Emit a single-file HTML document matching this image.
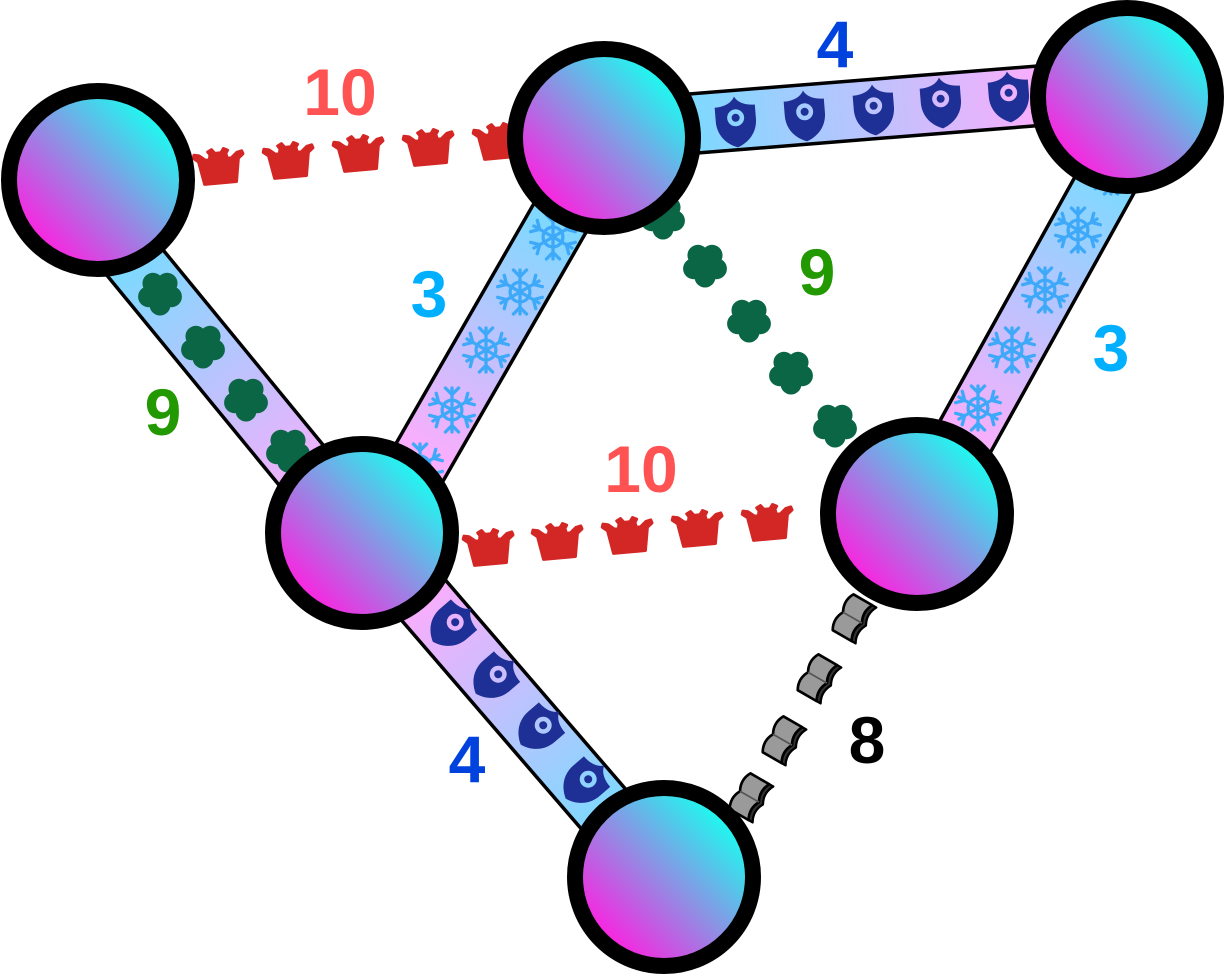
<!DOCTYPE html>
<html><head><meta charset="utf-8"><style>
html,body{margin:0;padding:0;background:#fff;}
svg{display:block}
text{font-family:"Liberation Sans",Arial,sans-serif;font-weight:bold;font-size:66px;text-anchor:middle}
</style></head><body>
<svg width="1225" height="976" viewBox="0 0 1225 976" xmlns="http://www.w3.org/2000/svg" xmlns:xlink="http://www.w3.org/1999/xlink">
<defs>
 <linearGradient id="ng" x1="0.15" y1="0.85" x2="0.85" y2="0.15">
  <stop offset="0" stop-color="#ff1fe0"/>
  <stop offset="0.5" stop-color="#8e90e4"/>
  <stop offset="1" stop-color="#18fff0"/>
 </linearGradient>
 <linearGradient id="gAD" gradientUnits="userSpaceOnUse" x1="137" y1="265" x2="320" y2="488">
  <stop offset="0" stop-color="#80d8ff"/><stop offset="1" stop-color="#f8aefc"/>
 </linearGradient>
 <linearGradient id="gBD" gradientUnits="userSpaceOnUse" x1="555" y1="228" x2="428" y2="450">
  <stop offset="0" stop-color="#80d8ff"/><stop offset="1" stop-color="#f8aefc"/>
 </linearGradient>
 <linearGradient id="gBC" gradientUnits="userSpaceOnUse" x1="700" y1="123" x2="1036" y2="96">
  <stop offset="0" stop-color="#80d8ff"/><stop offset="1" stop-color="#f8aefc"/>
 </linearGradient>
 <linearGradient id="gCE" gradientUnits="userSpaceOnUse" x1="1105" y1="185" x2="965" y2="435">
  <stop offset="0" stop-color="#80d8ff"/><stop offset="1" stop-color="#f8aefc"/>
 </linearGradient>
 <linearGradient id="gDF" gradientUnits="userSpaceOnUse" x1="425" y1="600" x2="605" y2="812">
  <stop offset="0" stop-color="#f8aefc"/><stop offset="1" stop-color="#80d8ff"/>
 </linearGradient>

 <path id="crown" d="M -16 17 L 16 17 L 20 -6 L 25 -10 L 24 -13 L 19 -12 L 13 -7 L 9 -7 L 8 -12 L 10 -15 L 6 -17 L 3 -13 L -3 -13 L -6 -17 L -10 -15 L -8 -12 L -9 -7 L -13 -7 L -19 -12 L -24 -13 L -25 -10 L -20 -6 Z" fill="#d22725" stroke="#d22725" stroke-width="3" stroke-linejoin="round"/>

 <path id="shield" fill="#1e2f96" fill-rule="evenodd" transform="scale(1.06)" d="M -19 -15 C -10 -15 -3 -18 0 -24 C 3 -18 10 -15 19 -15 L 19 -2 C 19 11 11 20 0 24 C -11 20 -19 11 -19 -2 Z M 8 -4 A 8 8 0 1 0 -8 -4 A 8 8 0 1 0 8 -4 Z M 3.8 -4 A 3.8 3.8 0 1 0 -3.8 -4 A 3.8 3.8 0 1 0 3.8 -4 Z"/>

 <g id="flower" fill="#0b6646">
  <circle cx="0" cy="0" r="12"/>
  <circle cx="0" cy="12" r="10.5"/>
  <circle cx="11.4" cy="3.7" r="10.5"/>
  <circle cx="7.05" cy="-9.7" r="10.5"/>
  <circle cx="-7.05" cy="-9.7" r="10.5"/>
  <circle cx="-11.4" cy="3.7" r="10.5"/>
 </g>

 <g id="flake" stroke="#3da9f8" stroke-width="3" stroke-linecap="round" fill="none" transform="scale(1.1)">
  <circle cx="0" cy="0" r="9"/>
  <path d="M0 0V-20M0 -14L-6 -20M0 -14L6 -20"/>
  <path d="M0 0V-20M0 -14L-6 -20M0 -14L6 -20" transform="rotate(60)"/>
  <path d="M0 0V-20M0 -14L-6 -20M0 -14L6 -20" transform="rotate(120)"/>
  <path d="M0 0V-20M0 -14L-6 -20M0 -14L6 -20" transform="rotate(180)"/>
  <path d="M0 0V-20M0 -14L-6 -20M0 -14L6 -20" transform="rotate(240)"/>
  <path d="M0 0V-20M0 -14L-6 -20M0 -14L6 -20" transform="rotate(300)"/>
 </g>

 <g id="book" transform="scale(1.15)">
  <path d="M -18 9 L -18 13 Q -9 8 0 13 Q 9 8 18 13 L 18 9 Q 9 4 0 9 Q -9 4 -18 9 Z" fill="#333" stroke="#000" stroke-width="2" stroke-linejoin="round"/>
  <path d="M -18 -10 Q -9 -15 0 -10 Q 9 -15 18 -10 L 18 9 Q 9 4 0 9 Q -9 4 -18 9 Z" fill="#9a9a9a" stroke="#000" stroke-width="2.3" stroke-linejoin="round"/>
  <path d="M 0 -10 L 0 9" stroke="#555" stroke-width="1.5"/>
 </g>
</defs>

<!-- bands -->
<g stroke-linecap="butt">
 <line x1="59" y1="170" x2="379" y2="560" stroke="#000" stroke-width="63"/>
 <line x1="59" y1="170" x2="379" y2="560" stroke="url(#gAD)" stroke-width="56"/>

 <line x1="599" y1="150" x2="372" y2="545" stroke="#000" stroke-width="63"/>
 <line x1="599" y1="150" x2="372" y2="545" stroke="url(#gBD)" stroke-width="56"/>

 <line x1="620" y1="129.4" x2="1110" y2="90" stroke="#000" stroke-width="63"/>
 <line x1="620" y1="129.4" x2="1110" y2="90" stroke="url(#gBC)" stroke-width="56"/>

 <line x1="1146" y1="110" x2="919" y2="520" stroke="#000" stroke-width="63"/>
 <line x1="1146" y1="110" x2="919" y2="520" stroke="url(#gCE)" stroke-width="56"/>

 <line x1="376" y1="545" x2="656" y2="870" stroke="#000" stroke-width="63"/>
 <line x1="376" y1="545" x2="656" y2="870" stroke="url(#gDF)" stroke-width="56"/>
</g>

<!-- A-B crowns -->
<use href="#crown" xlink:href="#crown" transform="translate(219 166) rotate(-5.3)"/>
<use href="#crown" xlink:href="#crown" transform="translate(289 160) rotate(-5.3)"/>
<use href="#crown" xlink:href="#crown" transform="translate(359 153) rotate(-5.3)"/>
<use href="#crown" xlink:href="#crown" transform="translate(429 147) rotate(-5.3)"/>
<use href="#crown" xlink:href="#crown" transform="translate(499 141) rotate(-5.3)"/>
<!-- D-E crowns -->
<use href="#crown" xlink:href="#crown" transform="translate(489 547) rotate(-5)"/>
<use href="#crown" xlink:href="#crown" transform="translate(558 541) rotate(-5)"/>
<use href="#crown" xlink:href="#crown" transform="translate(628 535) rotate(-5)"/>
<use href="#crown" xlink:href="#crown" transform="translate(698 528) rotate(-5)"/>
<use href="#crown" xlink:href="#crown" transform="translate(768 522) rotate(-5)"/>
<!-- B-C shields -->
<use href="#shield" xlink:href="#shield" transform="translate(736 122) rotate(-4.6)"/>
<use href="#shield" xlink:href="#shield" transform="translate(805 116) rotate(-4.6)"/>
<use href="#shield" xlink:href="#shield" transform="translate(874 110) rotate(-4.6)"/>
<use href="#shield" xlink:href="#shield" transform="translate(941 103) rotate(-4.6)"/>
<use href="#shield" xlink:href="#shield" transform="translate(1009 97) rotate(-4.6)"/>
<!-- D-F shields -->
<use href="#shield" xlink:href="#shield" transform="translate(452 625) rotate(49.3)"/>
<use href="#shield" xlink:href="#shield" transform="translate(495 677) rotate(49.3)"/>
<use href="#shield" xlink:href="#shield" transform="translate(540 728) rotate(49.3)"/>
<use href="#shield" xlink:href="#shield" transform="translate(585 782) rotate(49.3)"/>
<!-- A-D flowers -->
<use href="#flower" xlink:href="#flower" transform="translate(160 293)"/>
<use href="#flower" xlink:href="#flower" transform="translate(203 346)"/>
<use href="#flower" xlink:href="#flower" transform="translate(246 399)"/>
<use href="#flower" xlink:href="#flower" transform="translate(288 450)"/>
<!-- B-E flowers -->
<use href="#flower" xlink:href="#flower" transform="translate(663 217)"/>
<use href="#flower" xlink:href="#flower" transform="translate(705 265)"/>
<use href="#flower" xlink:href="#flower" transform="translate(749 320)"/>
<use href="#flower" xlink:href="#flower" transform="translate(791 372)"/>
<use href="#flower" xlink:href="#flower" transform="translate(835 425)"/>
<!-- B-D flakes -->
<use href="#flake" xlink:href="#flake" transform="translate(553 237)"/>
<use href="#flake" xlink:href="#flake" transform="translate(520 292)"/>
<use href="#flake" xlink:href="#flake" transform="translate(486 350)"/>
<use href="#flake" xlink:href="#flake" transform="translate(452 410)"/>
<use href="#flake" xlink:href="#flake" transform="translate(420 466)"/>
<!-- C-E flakes -->
<use href="#flake" xlink:href="#flake" transform="translate(1111 172)"/>
<use href="#flake" xlink:href="#flake" transform="translate(1078 230)"/>
<use href="#flake" xlink:href="#flake" transform="translate(1045 290)"/>
<use href="#flake" xlink:href="#flake" transform="translate(1012 350)"/>
<use href="#flake" xlink:href="#flake" transform="translate(978 408)"/>
<!-- E-F books -->
<use href="#book" xlink:href="#book" transform="translate(853 618) rotate(-60)"/>
<use href="#book" xlink:href="#book" transform="translate(818 678) rotate(-60)"/>
<use href="#book" xlink:href="#book" transform="translate(783 740) rotate(-60)"/>
<use href="#book" xlink:href="#book" transform="translate(750 797) rotate(-60)"/>

<!-- nodes -->
<g fill="url(#ng)" stroke="#000" stroke-width="16">
 <circle cx="98" cy="180" r="89"/>
 <circle cx="604" cy="138" r="89"/>
 <circle cx="1127" cy="97" r="89"/>
 <circle cx="362" cy="533" r="89"/>
 <circle cx="917" cy="514" r="89"/>
 <circle cx="664" cy="877" r="89"/>
</g>

<!-- labels -->
<text x="340" y="115" fill="#ff5252">10</text>
<text x="835" y="67" fill="#0042dd">4</text>
<text x="429" y="317" fill="#00b0ff">3</text>
<text x="163" y="435" fill="#229900">9</text>
<text x="817" y="295" fill="#229900">9</text>
<text x="1111" y="371" fill="#00b0ff">3</text>
<text x="641" y="492" fill="#ff5252">10</text>
<text x="467" y="782" fill="#0042dd">4</text>
<text x="867" y="763" fill="#000">8</text>
</svg>
</body></html>
